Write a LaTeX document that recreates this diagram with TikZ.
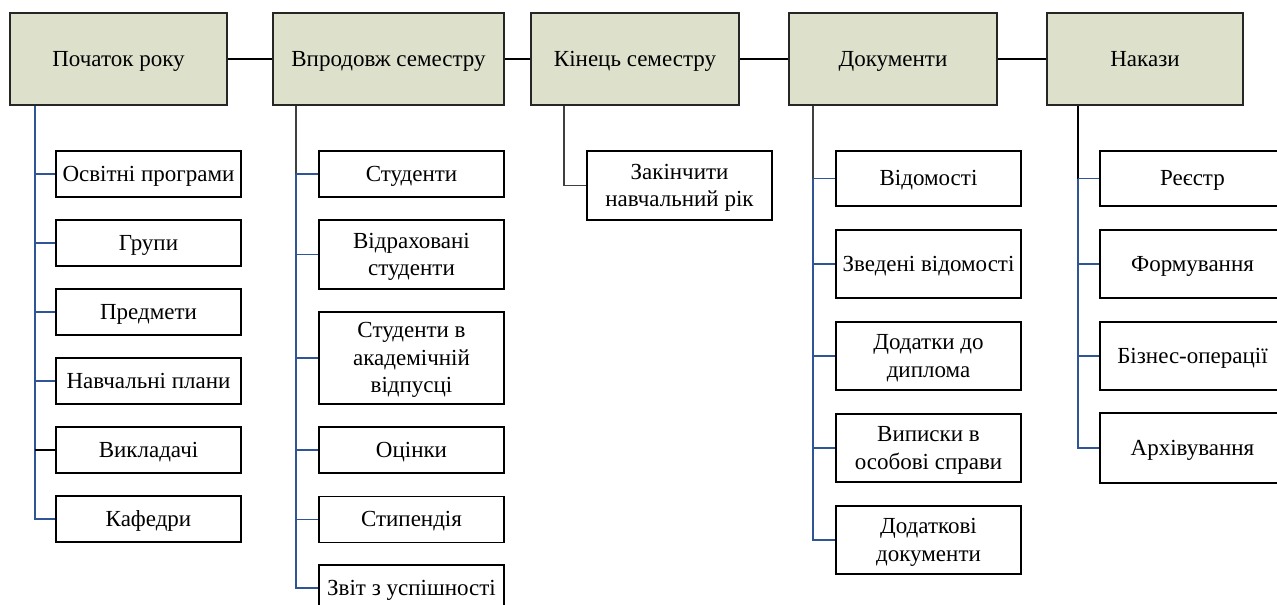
\documentclass[tikz,border=0pt]{standalone}
\usepackage{fontspec}
\usepackage{array}
\setmainfont{Liberation Serif}
\definecolor{headfill}{HTML}{DDE1CC}
\definecolor{linkblue}{HTML}{2F5597}
\definecolor{linkgray}{HTML}{404040}
% centred lines of box text, each on a fixed-height row
\newcommand\boxlines[1]{{\renewcommand\arraystretch{0}%
  \begin{tabular}{@{}>{\rule[-6.5pt]{0pt}{27.5pt}}c@{}}#1\end{tabular}}}
\begin{document}
\begin{tikzpicture}[x=1pt,y=-1pt,
  head/.style={draw=black!85, line width=1.2pt, fill=headfill, inner sep=0pt,
    minimum height=92pt, font=\fontsize{23}{28}\selectfont},
  item/.style={draw=black, line width=1.2pt, fill=white, inner sep=0pt,
    minimum width=185pt, font=\fontsize{23}{28}\selectfont},
  bluelink/.style={draw=linkblue, line width=1.1pt},
  graylink/.style={draw=linkgray, line width=1.1pt},
  blacklink/.style={draw=black, line width=1.1pt}]
\useasboundingbox (0,0) rectangle (1277,605);
\clip (0,0) rectangle (1277,605);

% header row
\node[head, minimum width=217pt] (h1) at (118.5,59) {\boxlines{Початок року}};
\node[head, minimum width=231pt] (h2) at (388.5,59) {\boxlines{Впродовж семестру}};
\node[head, minimum width=208pt] (h3) at (635,59) {\boxlines{Кінець семестру}};
\node[head, minimum width=208pt] (h4) at (893,59) {\boxlines{Документи}};
\node[head, minimum width=196pt] (h5) at (1145,59) {\boxlines{Накази}};

\draw[blacklink] (h1) -- (h2);
\draw[blacklink] (h2) -- (h3);
\draw[blacklink] (h3) -- (h4);
\draw[blacklink] (h4) -- (h5);

% trunk positions
\coordinate (t1) at (35,0);
\coordinate (t2) at (296,0);
\coordinate (t3) at (564,0);
\coordinate (t4) at (813,0);
\coordinate (t5) at (1078,0);

% column 1
\node[item, minimum height=46pt] (a1) at (148.5,174) {\boxlines{Освітні програми}};
\node[item, minimum height=46pt] (a2) at (148.5,243) {\boxlines{Групи}};
\node[item, minimum height=46pt] (a3) at (148.5,312) {\boxlines{Предмети}};
\node[item, minimum height=46pt] (a4) at (148.5,381) {\boxlines{Навчальні плани}};
\node[item, minimum height=46pt] (a5) at (148.5,450) {\boxlines{Викладачі}};
\node[item, minimum height=46pt] (a6) at (148.5,519) {\boxlines{Кафедри}};

\draw[bluelink] (t1 |- h1.south) -- (t1 |- a6.west) -- (a6.west);
\foreach \n in {a1,a2,a3,a4} \draw[bluelink] (t1 |- \n.west) -- (\n.west);
\draw[blacklink] (t1 |- a5.west) -- (a5.west);

% column 2
\node[item, minimum height=46pt] (b1) at (411.5,174) {\boxlines{Студенти}};
\node[item, minimum height=69pt] (b2) at (411.5,254.5) {\boxlines{Відраховані\\студенти}};
\node[item, minimum height=92pt] (b3) at (411.5,358) {\boxlines{Студенти в\\академічній\\відпусці}};
\node[item, minimum height=46pt] (b4) at (411.5,450) {\boxlines{Оцінки}};
\node[item, minimum height=46pt] (b5) at (411.5,519.5) {\boxlines{Стипендія}};
\node[item, minimum height=46pt] (b6) at (411.5,588) {\boxlines{Звіт з успішності}};

\draw[graylink] (t2 |- h2.south) -- (t2 |- b1.west);
\draw[bluelink] (t2 |- b1.west) -- (t2 |- b6.west) -- (b6.west);
\foreach \n in {b1,b2,b3,b4,b5} \draw[bluelink] (t2 |- \n.west) -- (\n.west);

% column 3
\node[item, minimum height=69pt] (c1) at (679.5,185.5) {\boxlines{Закінчити\\навчальний рік}};
\draw[graylink] (t3 |- h3.south) -- (t3 |- c1.west) -- (c1.west);

% column 4
\node[item, minimum height=55pt] (d1) at (928.5,178.5) {\boxlines{Відомості}};
\node[item, minimum height=68pt] (d2) at (928.5,264) {\boxlines{Зведені відомості}};
\node[item, minimum height=68pt] (d3) at (928.5,356) {\boxlines{Додатки до\\диплома}};
\node[item, minimum height=68pt] (d4) at (928.5,448) {\boxlines{Виписки в\\особові справи}};
\node[item, minimum height=68pt] (d5) at (928.5,540) {\boxlines{Додаткові\\документи}};

\draw[graylink] (t4 |- h4.south) -- (t4 |- d1.west);
\draw[bluelink] (t4 |- d1.west) -- (t4 |- d5.west) -- (d5.west);
\foreach \n in {d1,d2,d3,d4} \draw[bluelink] (t4 |- \n.west) -- (\n.west);

% column 5
\node[item, minimum height=55pt] (e1) at (1192.5,178.5) {\boxlines{Реєстр}};
\node[item, minimum height=68pt] (e2) at (1192.5,264) {\boxlines{Формування}};
\node[item, minimum height=68pt] (e3) at (1192.5,356) {\boxlines{Бізнес-операції}};
\node[item, minimum height=70pt] (e4) at (1192.5,448) {\boxlines{Архівування}};

\draw[blacklink] (t5 |- h5.south) -- (t5 |- e1.west);
\draw[bluelink] (t5 |- e1.west) -- (t5 |- e4.west) -- (e4.west);
\foreach \n in {e1,e2,e3} \draw[bluelink] (t5 |- \n.west) -- (\n.west);
\end{tikzpicture}
\end{document}
